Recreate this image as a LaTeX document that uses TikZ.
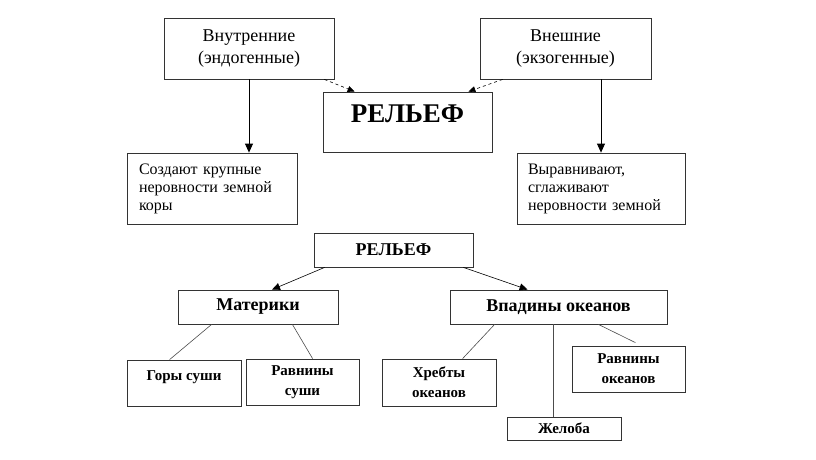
\documentclass[tikz,border=0pt]{standalone}
\usepackage{fontspec}
\setmainfont{Liberation Serif}
\usetikzlibrary{arrows.meta}

\tikzset{
  box/.style={draw=black!80,line width=0.8pt,rectangle,inner sep=0pt,align=center},
  big/.style={box,font=\fontsize{18}{22}\selectfont},
  note/.style={box,align=left,text width=146pt,font=\fontsize{16}{18}\selectfont},
  head/.style={box,font=\bfseries\fontsize{18}{22}\selectfont},
  leaf/.style={box,font=\bfseries\fontsize{15}{20}\selectfont},
  arr/.style={-{Triangle[length=9pt,width=8pt]},line width=0.8pt},
  darr/.style={-{Triangle[length=7pt,width=6pt]},dashed,line width=0.6pt},
  arrb/.style={-{Triangle[length=8pt,width=7pt]},line width=0.6pt},
  link/.style={line width=0.6pt,draw=black!70}
}

\begin{document}
\begin{tikzpicture}[x=1pt,y=-1pt]
  \useasboundingbox (0,0) rectangle (816,459);

  % top scheme
  \node [big,minimum width=170pt,minimum height=61pt] (endo) at (249,48.5) {Внутренние\\(эндогенные)};
  \node [big,minimum width=171pt,minimum height=61pt] (exo) at (565.5,48.5) {Внешние\\(экзогенные)};
  \node [box,font=\bfseries\fontsize{27}{30}\selectfont,text height=18pt,text depth=18pt,
         minimum width=169pt,minimum height=60pt] (rel) at (407.5,122) {РЕЛЬЕФ};
  \node [note,minimum width=170pt,minimum height=71pt] (create) at (212,188.5) {Создают крупные\\неровности земной\\коры};
  \node [note,minimum width=168pt,minimum height=71pt] (smooth) at (601,188.5) {Выравнивают,\\сглаживают\\неровности земной};

  \draw [arr] (endo.south) -- (endo.south |- create.north);
  \draw [arr] (smooth.north |- exo.south) -- (smooth.north);
  \draw [darr] ([xshift=-10pt]endo.south east) -- ([xshift=32pt]rel.north west);
  \draw [darr] ([xshift=23pt]exo.south west) -- ([xshift=-24pt]rel.north east);

  % bottom scheme
  \node [head,minimum width=159pt,minimum height=34pt] (rel2) at (393.5,250) {РЕЛЬЕФ};
  \node [head,minimum width=160pt,minimum height=34pt] (land) at (258,307) {Материки};
  \node [head,minimum width=217pt,minimum height=34pt] (ocean) at (558.5,307) {Впадины океанов};
  \node [leaf,minimum width=114pt,minimum height=46pt,text height=10pt,text depth=16pt] (mount) at (184,383) {Горы суши};
  \node [leaf,minimum width=113pt,minimum height=46pt] (lplain) at (302.5,382) {Равнины\\суши};
  \node [leaf,minimum width=114pt,minimum height=47pt] (ridge) at (439,382.5) {Хребты\\океанов};
  \node [leaf,minimum width=114pt,minimum height=23pt] (trench) at (564,428.5) {Желоба};
  \node [leaf,minimum width=113pt,minimum height=46pt] (oplain) at (628.5,369) {Равнины\\океанов};

  \draw [arrb] ([xshift=11pt]rel2.south west) -- ([xshift=14pt]land.north);
  \draw [arrb] ([xshift=-10pt]rel2.south east) -- ([xshift=78pt]ocean.north west);
  \draw [link] ([xshift=34pt]land.south west) -- ([xshift=43pt]mount.north west);
  \draw [link] ([xshift=-46pt]land.south east) -- ([xshift=67pt]lplain.north west);
  \draw [link] ([xshift=45pt]ocean.south west) -- ([xshift=81pt]ridge.north west);
  \draw [link] ([xshift=-5.5pt]ocean.south) -- ([xshift=-5.5pt]ocean.south |- trench.north);
  \draw [link] ([xshift=-69pt]ocean.south east) -- ([xshift=-50pt,yshift=3pt]oplain.north east);
\end{tikzpicture}
\end{document}
